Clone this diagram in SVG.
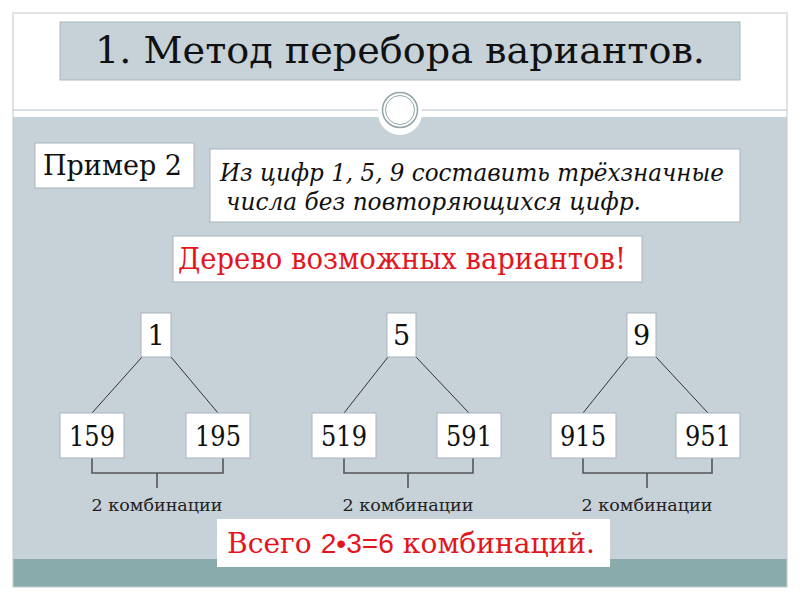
<svg xmlns="http://www.w3.org/2000/svg" width="800" height="600" viewBox="0 0 800 600">
<style>
.box{fill:#fff;stroke:#a7b3bb;stroke-width:1}
.serif{font-family:"DejaVu Serif","Liberation Serif",serif;fill:#111}
.num{font-family:"DejaVu Serif","Liberation Serif",serif;font-size:27px;text-anchor:middle;fill:#111}
.edge{stroke:#333;stroke-width:1;fill:none}
.br{stroke:#555;stroke-width:1.6;fill:none}
.lbl{font-family:"DejaVu Serif","Liberation Serif",serif;font-size:17px;text-anchor:middle;fill:#222}
.red{fill:#e3151d}
</style>
<rect x="0" y="0" width="800" height="600" fill="#fff"/>
<rect x="13" y="117" width="774" height="442" fill="#c6d1d8"/>
<rect x="13" y="559" width="774" height="28" fill="#8aabab"/>
<rect x="13" y="13" width="774" height="574" fill="none" stroke="#c2cacf" stroke-width="1"/>
<line x1="13" y1="110" x2="787" y2="110" stroke="#b4c0c6" stroke-width="1"/>
<circle cx="400" cy="113" r="22" fill="#fff"/>
<circle cx="400" cy="110" r="17.5" fill="#fff" stroke="#8fa4a6" stroke-width="1.5"/>
<circle cx="400" cy="110" r="14.5" fill="#fff" stroke="#8fa4a6" stroke-width="1"/>

<g id="title">
<rect x="60" y="22" width="680" height="58" fill="#c6d1d8" stroke="#aab6be"/>
<text x="95" y="63" class="serif" font-size="38" textLength="610" lengthAdjust="spacingAndGlyphs">1. Метод перебора вариантов.</text>
</g>

<g id="example">
<rect class="box" x="35" y="143" width="159" height="45"/>
<text x="43" y="175" class="serif" font-size="27" textLength="139" lengthAdjust="spacingAndGlyphs">Пример 2</text>
</g>

<g id="task">
<rect class="box" x="210" y="149" width="530" height="73"/>
<text x="220" y="181" class="serif" font-size="25" font-style="italic" textLength="504" lengthAdjust="spacingAndGlyphs">Из цифр 1, 5, 9 составить трёхзначные</text>
<text x="226" y="210" class="serif" font-size="25" font-style="italic" textLength="415" lengthAdjust="spacingAndGlyphs">числа без повторяющихся цифр.</text>
</g>

<g id="tree-title">
<rect class="box" x="173" y="236" width="469" height="46"/>
<text x="178" y="269" class="serif red" font-size="29" textLength="448" lengthAdjust="spacingAndGlyphs">Дерево возможных вариантов!</text>
</g>

<g id="connectors">
<line class="edge" x1="142" y1="357" x2="92" y2="413"/>
<line class="edge" x1="171" y1="357" x2="218" y2="413"/>
<line class="edge" x1="388" y1="357" x2="344" y2="413"/>
<line class="edge" x1="416" y1="357" x2="469" y2="413"/>
<line class="edge" x1="628" y1="357" x2="583" y2="413"/>
<line class="edge" x1="656" y1="357" x2="708" y2="413"/>
<path class="br" d="M92 458V473H223V458M157 473V488"/>
<path class="br" d="M344 458V473H473V458M408 473V488"/>
<path class="br" d="M583 458V473H712V458M647 473V488"/>
</g>

<g id="n1"><rect class="box" x="141" y="313" width="30" height="44"/><text class="num" x="156" y="345">1</text></g>
<g id="n5"><rect class="box" x="387" y="313" width="29" height="44"/><text class="num" x="401.5" y="345">5</text></g>
<g id="n9"><rect class="box" x="627" y="313" width="29" height="44"/><text class="num" x="641.5" y="345">9</text></g>

<g id="n159"><rect class="box" x="60" y="413" width="64" height="45"/><text class="num" x="92" y="446" textLength="46" lengthAdjust="spacingAndGlyphs">159</text></g>
<g id="n195"><rect class="box" x="186" y="413" width="64" height="45"/><text class="num" x="218" y="446" textLength="46" lengthAdjust="spacingAndGlyphs">195</text></g>
<g id="n519"><rect class="box" x="312" y="413" width="64" height="45"/><text class="num" x="344" y="446" textLength="46" lengthAdjust="spacingAndGlyphs">519</text></g>
<g id="n591"><rect class="box" x="437" y="413" width="64" height="45"/><text class="num" x="469" y="446" textLength="46" lengthAdjust="spacingAndGlyphs">591</text></g>
<g id="n915"><rect class="box" x="551" y="413" width="65" height="45"/><text class="num" x="583" y="446" textLength="46" lengthAdjust="spacingAndGlyphs">915</text></g>
<g id="n951"><rect class="box" x="676" y="413" width="64" height="45"/><text class="num" x="708" y="446" textLength="46" lengthAdjust="spacingAndGlyphs">951</text></g>

<g id="labels">
<text class="lbl" x="157" y="511" textLength="131" lengthAdjust="spacingAndGlyphs">2 комбинации</text>
<text class="lbl" x="408" y="511" textLength="131" lengthAdjust="spacingAndGlyphs">2 комбинации</text>
<text class="lbl" x="647" y="511" textLength="131" lengthAdjust="spacingAndGlyphs">2 комбинации</text>
</g>

<g id="total">
<rect x="217" y="519" width="393" height="48" fill="#fff"/>
<text x="227" y="553" class="serif red" font-size="27" textLength="368" lengthAdjust="spacingAndGlyphs">Всего <tspan font-family="'Liberation Sans','DejaVu Sans',sans-serif">2•3=6</tspan> комбинаций.</text>
</g>
</svg>
